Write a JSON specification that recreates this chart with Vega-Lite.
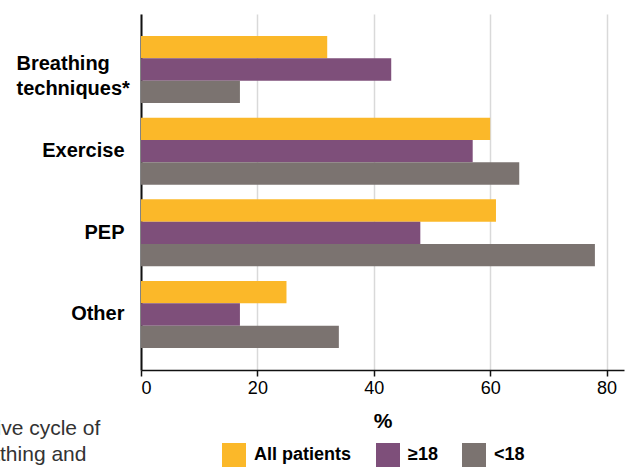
{
  "$schema": "https://vega.github.io/schema/vega-lite/v6.json",
  "width": 483,
  "height": 356,
  "autosize": {"type": "none"},
  "padding": {"left": 141, "top": 14, "right": 9, "bottom": 98},
  "background": "white",
  "title": {
    "text": ["*Active cycle of", "breathing and"],
    "orient": "bottom",
    "anchor": "start",
    "frame": "group",
    "align": "left",
    "dx": -183,
    "dy": -53,
    "font": "Liberation Sans",
    "fontSize": 21,
    "fontWeight": "normal",
    "color": "#333333",
    "lineHeight": 26
  },
  "data": {
    "values": [
      {"category": "Breathing techniques*", "group": "All patients", "value": 32},
      {"category": "Breathing techniques*", "group": "≥18", "value": 43},
      {"category": "Breathing techniques*", "group": "<18", "value": 17},
      {"category": "Exercise", "group": "All patients", "value": 60},
      {"category": "Exercise", "group": "≥18", "value": 57},
      {"category": "Exercise", "group": "<18", "value": 65},
      {"category": "PEP", "group": "All patients", "value": 61},
      {"category": "PEP", "group": "≥18", "value": 48},
      {"category": "PEP", "group": "<18", "value": 78},
      {"category": "Other", "group": "All patients", "value": 25},
      {"category": "Other", "group": "≥18", "value": 17},
      {"category": "Other", "group": "<18", "value": 34}
    ]
  },
  "mark": {"type": "bar"},
  "encoding": {
    "y": {
      "field": "category",
      "type": "nominal",
      "sort": ["Breathing techniques*", "Exercise", "PEP", "Other"],
      "scale": {"paddingInner": 0.18, "paddingOuter": 0.27},
      "axis": {
        "title": null,
        "domain": true,
        "domainColor": "#111111",
        "domainWidth": 2,
        "ticks": false,
        "labelFont": "Liberation Sans",
        "labelFontSize": 20,
        "labelFontWeight": "bold",
        "labelColor": "#000000",
        "labelLineHeight": 25,
        "labelExpr": "datum.value == 'Breathing techniques*' ? ['Breathing', 'techniques*'] : datum.label",
        "labelAlign": {"condition": {"test": "datum.value == 'Breathing techniques*'", "value": "left"}, "value": "right"},
        "labelPadding": {"condition": {"test": "datum.value == 'Breathing techniques*'", "value": 125}, "value": 17},
        "labelOffset": {"condition": {"test": "datum.value == 'Breathing techniques*'", "value": -6}, "value": 0}
      }
    },
    "yOffset": {
      "field": "group",
      "type": "nominal",
      "sort": ["All patients", "≥18", "<18"],
      "scale": {"paddingInner": 0, "paddingOuter": 0}
    },
    "x": {
      "field": "value",
      "type": "quantitative",
      "scale": {"domain": [0, 83], "nice": false},
      "axis": {
        "title": "%",
        "values": [0, 20, 40, 60, 80],
        "grid": true,
        "gridColor": "#d9d9d9",
        "gridWidth": 1.5,
        "domainColor": "#111111",
        "domainWidth": 1.5,
        "tickColor": "#111111",
        "tickSize": 6,
        "tickWidth": 1.5,
        "labelFont": "Liberation Sans",
        "labelFontSize": 18,
        "labelColor": "#000000",
        "labelPadding": 3,
        "titleFont": "Liberation Sans",
        "titleFontSize": 21,
        "titleFontWeight": "bold",
        "titleColor": "#000000",
        "titlePadding": 13
      }
    },
    "color": {
      "field": "group",
      "type": "nominal",
      "sort": ["All patients", "≥18", "<18"],
      "scale": {"domain": ["All patients", "≥18", "<18"], "range": ["#FBB829", "#7E4F7A", "#7B7370"]},
      "legend": {
        "title": null,
        "orient": "none",
        "legendX": 81,
        "legendY": 429,
        "direction": "horizontal",
        "symbolType": "square",
        "symbolSize": 576,
        "symbolStrokeWidth": 0,
        "labelFont": "Liberation Sans",
        "labelFontSize": 18,
        "labelFontWeight": "bold",
        "labelColor": "#000000",
        "labelOffset": 8,
        "columnPadding": 24
      }
    }
  },
  "config": {"view": {"stroke": null}}
}
